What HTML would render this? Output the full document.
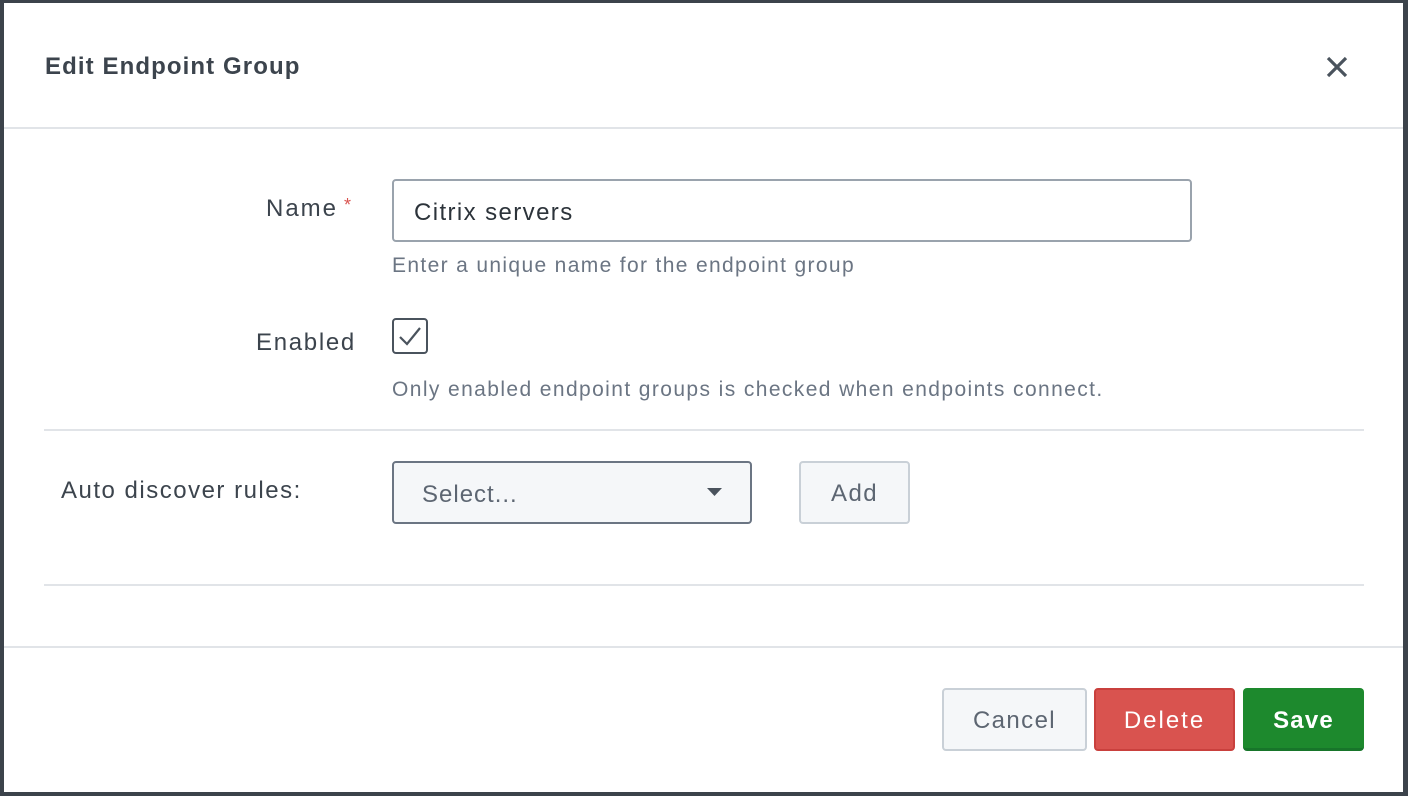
<!DOCTYPE html>
<html><head><style>
html,body{margin:0;padding:0;width:1408px;height:796px;overflow:hidden;background:#3c434b;font-family:"Liberation Sans",sans-serif;}
.m{position:absolute;left:4px;top:3px;width:1399px;height:789px;background:#fff;}
.a{position:absolute;white-space:nowrap;}
.hr{position:absolute;height:2px;background:#e1e4e8;}
.lab{font-size:24px;color:#3c444d;letter-spacing:1.5px;}
.help{font-size:21px;color:#6b7583;letter-spacing:1.35px;}
.btn{position:absolute;box-sizing:border-box;border-radius:4px;font-size:24px;text-align:center;letter-spacing:1.4px;}
</style></head><body>
<div class="m"></div>
<div class="a" style="left:45px;top:53px;font-size:24px;font-weight:bold;color:#3c444d;letter-spacing:1.1px;">Edit Endpoint Group</div>
<svg class="a" style="left:1326px;top:56px" width="22" height="22"><path d="M2 2L20 20M20 2L2 20" stroke="#4a535d" stroke-width="3.2"/></svg>
<div class="hr" style="left:4px;top:127px;width:1399px;"></div>
<div class="a lab" style="left:266px;top:195px;letter-spacing:2px;">Name<span style="color:#d9534f;font-size:18px;position:relative;top:-5px;margin-left:6px;">*</span></div>
<div class="a" style="left:392px;top:179px;width:800px;height:63px;box-sizing:border-box;border:2px solid #9aa3ad;border-radius:4px;"></div>
<div class="a lab" style="left:414px;top:199px;color:#2c333a;letter-spacing:1.4px;">Citrix servers</div>
<div class="a help" style="left:392px;top:254px;">Enter a unique name for the endpoint group</div>
<div class="a lab" style="left:256px;top:329px;letter-spacing:1.7px;">Enabled</div>
<div class="a" style="left:392px;top:318px;width:36px;height:36px;box-sizing:border-box;border:2px solid #4a535d;border-radius:4px;"></div>
<svg class="a" style="left:392px;top:318px" width="36" height="36"><path d="M8 19L15 26L28 10" fill="none" stroke="#4a535d" stroke-width="2.2"/></svg>
<div class="a help" style="left:392px;top:378px;letter-spacing:1.4px;">Only enabled endpoint groups is checked when endpoints connect.</div>
<div class="hr" style="left:44px;top:429px;width:1320px;"></div>
<div class="a lab" style="left:61px;top:477px;">Auto discover rules:</div>
<div class="a" style="left:392px;top:461px;width:360px;height:63px;box-sizing:border-box;border:2px solid #6b7583;border-radius:4px;background:#f5f7f9;"></div>
<div class="a lab" style="left:422px;top:481px;color:#5d6672;letter-spacing:1px;">Select...</div>
<svg class="a" style="left:707px;top:488px" width="16" height="10"><path d="M0 0H15L7.5 8Z" fill="#4a535d"/></svg>
<div class="btn" style="left:799px;top:461px;width:111px;height:63px;border:2px solid #c9d0d7;background:#f5f7f9;color:#5d6672;line-height:61px;">Add</div>
<div class="hr" style="left:44px;top:584px;width:1320px;"></div>
<div class="hr" style="left:4px;top:646px;width:1399px;"></div>
<div class="btn" style="left:942px;top:688px;width:145px;height:63px;border:2px solid #c9d0d7;background:#f5f7f9;color:#5d6672;line-height:61px;">Cancel</div>
<div class="btn" style="left:1094px;top:688px;width:141px;height:63px;border:2px solid #c9403d;background:#d9534f;color:#fff;line-height:61px;letter-spacing:2px;">Delete</div>
<div class="btn" style="left:1243px;top:688px;width:121px;height:63px;background:#1d892d;border-bottom:3px solid #17752a;color:#fff;font-weight:bold;line-height:65px;letter-spacing:1.2px;">Save</div>
</body></html>
